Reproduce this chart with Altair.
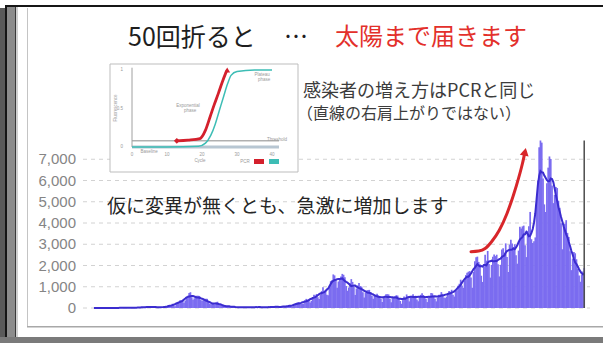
import altair as alt
import pandas as pd

# ---------------------------------------------------------------
# Data
# ---------------------------------------------------------------
# Daily new COVID-19 cases in Japan, one row per week, starting Monday 2020-01-27
start_date = "2020-01-27"
daily_cases = [
    1, 1, 1, 3, 3, 1, 0,
    0, 0, 2, 3, 1, 1, 0,
    0, 2, 0, 1, 6, 8, 10,
    7, 8, 10, 12, 14, 16, 11,
    12, 10, 17, 18, 23, 20, 13,
    16, 15, 34, 31, 48, 59, 33,
    26, 54, 52, 56, 52, 64, 31,
    15, 44, 39, 35, 43, 53, 35,
    39, 65, 93, 96, 111, 200, 173,
    87, 193, 266, 235, 368, 331, 383,
    252, 351, 515, 576, 708, 743, 507,
    391, 456, 548, 582, 576, 568, 373,
    346, 373, 389, 437, 431, 306, 196,
    172, 194, 212, 165, 262, 295, 200,
    175, 123, 96, 101, 106, 81, 66,
    51, 90, 54, 99, 51, 37, 27,
    17, 37, 21, 43, 29, 48, 26,
    25, 30, 40, 37, 49, 47, 39,
    32, 41, 40, 41, 48, 49, 39,
    16, 35, 39, 41, 44, 67, 47,
    72, 43, 44, 41, 68, 66, 58,
    37, 52, 96, 79, 104, 99, 110,
    88, 128, 131, 195, 250, 274, 229,
    187, 199, 204, 350, 429, 386, 408,
    256, 333, 448, 622, 590, 661, 508,
    419, 629, 795, 981, 769, 841, 624,
    597, 981, 1264, 1302, 1580, 1534, 1331,
    955, 1246, 1358, 1485, 1605, 1563, 1442,
    1035, 811, 962, 1176, 1360, 1227, 1018,
    615, 920, 1064, 1178, 1033, 1007, 737,
    494, 729, 820, 849, 853, 733, 575,
    433, 582, 613, 672, 593, 530, 438,
    283, 508, 500, 652, 651, 640, 437,
    269, 508, 502, 556, 602, 585, 434,
    329, 200, 371, 545, 485, 638, 471,
    311, 531, 568, 647, 566, 577, 399,
    316, 519, 620, 689, 612, 533, 434,
    278, 498, 543, 705, 690, 587, 434,
    312, 491, 621, 622, 749, 665, 492,
    466, 537, 695, 802, 766, 857, 625,
    539, 788, 827, 1050, 1141, 1331, 1060,
    950, 1275, 1547, 1661, 1707, 1737, 1438,
    953, 1697, 2200, 2386, 2417, 2168, 2057,
    1519, 1227, 1933, 2503, 2227, 2684, 2067,
    1429, 2028, 2412, 2518, 2442, 2507, 2063,
    1486, 2032, 2756, 2810, 2595, 3041, 2395,
    1693, 2983, 3211, 3041, 2832, 3002, 2484,
    2085, 2702, 3823, 3740, 3840, 3876, 2948,
    2395, 3628, 3852, 4520, 3237, 3059, 3138,
    3321, 4887, 6004, 7563, 7882, 7783, 6094,
    4876, 4519, 5866, 6605, 7132, 7014, 5759,
    4935, 5324, 5689, 5645, 5044, 4717, 3990,
    2764, 3853, 3961, 4133, 3535, 3343, 2673,
    1782, 2324, 2631, 2575, 2293, 1846, 1532,
    1235, 1566, 1712, 1879,
]

y_ticks = [0, 1000, 2000, 3000, 4000, 5000, 6000, 7000]

# Hand-drawn red arrow over the third wave
arrow_dates = ["2020-11-15", "2020-11-21", "2020-11-26", "2020-12-01", "2020-12-07",
               "2020-12-13", "2020-12-20", "2020-12-25", "2020-12-27"]
arrow_values = [2650, 2680, 2800, 3120, 3660, 4450, 5700, 6800, 7350]

# Inset: PCR amplification curves (cycle number vs. normalised fluorescence)
red_cycles = [12.8, 16, 19.4, 21, 22.3, 23.5, 24.7, 25.7, 26.6, 27.2]
red_signal = [0.08, 0.09, 0.11, 0.22, 0.39, 0.55, 0.70, 0.83, 0.94, 1.0]
teal_cycles = [0, 10, 19, 21, 22.5, 23.8, 25, 26.2, 27.3, 28.3, 30, 35, 40]
teal_signal = [0.0, 0.0, 0.01, 0.05, 0.15, 0.30, 0.48, 0.66, 0.82, 0.93, 0.98, 1.0, 1.0]
threshold_level = 0.08

# ---------------------------------------------------------------
# Tables
# ---------------------------------------------------------------
dates = pd.date_range(start_date, periods=len(daily_cases), freq="D").strftime("%Y-%m-%d")
cases_df = pd.DataFrame({"date": list(dates), "cases": daily_cases})
ticks_df = pd.DataFrame({"value": y_ticks})
end_df = pd.DataFrame({"date": [dates[-1]], "bottom": [0], "top": [max(daily_cases)]})
arrow_df = pd.DataFrame({"date": arrow_dates, "value": arrow_values, "order": range(len(arrow_dates))})
tip_df = arrow_df.tail(1)
red_df = pd.DataFrame({"cycle": red_cycles, "signal": red_signal})
teal_df = pd.DataFrame({"cycle": teal_cycles, "signal": teal_signal})
red_ends = red_df.iloc[[0, -1]].assign(kind=["start", "end"])
one_row = alt.Data(values=[{}])

CJK = "Noto Sans CJK JP"
LAT = "Liberation Sans"

# ---------------------------------------------------------------
# Scales
# ---------------------------------------------------------------
x_scale = alt.Scale(domain=[alt.DateTime(year=2020, month=1, date=18, hours=12, utc=True),
                            alt.DateTime(year=2021, month=2, date=15, hours=12, utc=True)],
                    padding=0)
y_scale = alt.Scale(domain=[0, 8000], nice=False)

inset_x = alt.Scale(domain=[0, 40], range=[49, 189], nice=False, zero=False)
inset_y = alt.Scale(domain=[0, 1], range=[9, -68], nice=False, zero=False)


def rect(x0, x1, y0, y1, color):
    return alt.Chart(one_row).mark_rect(color=color).encode(
        x=alt.value(x0), x2=alt.value(x1), y=alt.value(y0), y2=alt.value(y1))


def label(text, x, y, size, color, align="left", font=CJK, angle=0):
    return alt.Chart(one_row).mark_text(
        align=align, baseline="middle", font=font, fontSize=size, color=color, angle=angle
    ).encode(x=alt.value(x), y=alt.value(y), text=alt.value(text))


# ---------------------------------------------------------------
# Slide frame
# ---------------------------------------------------------------
frame = alt.layer(
    rect(-83, -78, -130, 205, "#5a5a5a"),
    rect(-78, 520, -133, -131, "#161616"),
    rect(-78, -76, -133, 205, "#161616"),
    rect(-76, -68, -131, 205, "#8c8c8c"),
    rect(-68, -67, -131, 205, "#3a3a3a"),
    rect(-67, -65, -131, 205, "#d0d0d0"),
    rect(-56, -55, -130, 188, "#c4c4c4"),
    rect(-56, 520, 188, 189.5, "#a8a8a8"),
    rect(-83, 520, 199, 205, "#7a7a7a"),
)

# ---------------------------------------------------------------
# Main chart: value axis, daily bars, 7-day average, end marker, red arrow
# ---------------------------------------------------------------
grid = alt.Chart(ticks_df).mark_rule(color="#d2d2d2", strokeWidth=1, strokeDash=[4, 4]).encode(
    x=alt.value(0), x2=alt.value(507),
    y=alt.Y("value:Q", scale=y_scale, axis=None),
)

tick_labels = alt.Chart(ticks_df).mark_text(
    align="right", baseline="middle", font=LAT, fontSize=15, color="#858585"
).encode(
    x=alt.value(-7),
    y=alt.Y("value:Q", scale=y_scale, axis=None),
    text=alt.Text("value:Q", format=","),
)

bars = alt.Chart(cases_df).mark_bar(width=1.7, color="#7b6cf0").encode(
    x=alt.X("date:T", scale=x_scale, axis=None),
    y=alt.Y("cases:Q", scale=y_scale, axis=None),
)

avg_line = alt.Chart(cases_df).transform_window(
    avg="mean(cases)", frame=[-3, 3], sort=[alt.SortField("date")]
).mark_line(color="#3b2ccf", strokeWidth=2).encode(
    x=alt.X("date:T", scale=x_scale, axis=None),
    y=alt.Y("avg:Q", scale=y_scale, axis=None),
)

end_rule = alt.Chart(end_df).mark_rule(color="#4d4d4d", strokeWidth=1.5).encode(
    x=alt.X("date:T", scale=x_scale, axis=None),
    y=alt.Y("bottom:Q", scale=y_scale, axis=None),
    y2="top:Q",
)

arrow_line = alt.Chart(arrow_df).mark_line(
    color="#d8262a", strokeWidth=3, interpolate="monotone", strokeCap="round"
).encode(
    x=alt.X("date:T", scale=x_scale, axis=None),
    y=alt.Y("value:Q", scale=y_scale, axis=None),
    order="order:Q",
)

arrow_head = alt.Chart(tip_df).mark_point(
    shape="triangle-up", filled=True, size=80, color="#d8262a", opacity=1, angle=12
).encode(
    x=alt.X("date:T", scale=x_scale, axis=None),
    y=alt.Y("value:Q", scale=y_scale, axis=None),
)

main = alt.layer(grid, tick_labels, bars, avg_line, end_rule, arrow_line, arrow_head)

# ---------------------------------------------------------------
# Inset: PCR amplification plot
# ---------------------------------------------------------------
inset_box = alt.Chart(one_row).mark_rect(fill="white", stroke="#bdbdbd", strokeWidth=1).encode(
    x=alt.value(27), x2=alt.value(215), y=alt.value(-74), y2=alt.value(34))

inset_axis = alt.Chart(one_row).mark_rule(color="#a0a0a0", strokeWidth=1).encode(
    x=alt.X(datum=0, scale=inset_x, axis=None),
    y=alt.Y(datum=0, scale=inset_y, axis=None),
    y2=alt.Y2(datum=1.03),
)

baseline_band = alt.Chart(one_row).mark_rect(color="#b7c6d2").encode(
    x=alt.X(datum=0, scale=inset_x, axis=None),
    x2=alt.X2(datum=42),
    y=alt.Y(datum=-0.02, scale=inset_y, axis=None),
    y2=alt.Y2(datum=0.02),
)

threshold = alt.Chart(one_row).mark_rule(color="#8a8a8a", strokeWidth=1).encode(
    x=alt.X(datum=0, scale=inset_x, axis=None),
    x2=alt.X2(datum=42),
    y=alt.Y(datum=threshold_level, scale=inset_y, axis=None),
)

teal_line = alt.Chart(teal_df).mark_line(color="#3dbdb5", strokeWidth=1.5, interpolate="monotone").encode(
    x=alt.X("cycle:Q", scale=inset_x, axis=None),
    y=alt.Y("signal:Q", scale=inset_y, axis=None),
)

red_line = alt.Chart(red_df).mark_line(color="#d4202c", strokeWidth=2.8, interpolate="monotone").encode(
    x=alt.X("cycle:Q", scale=inset_x, axis=None),
    y=alt.Y("signal:Q", scale=inset_y, axis=None),
)

red_marks = alt.Chart(red_ends).mark_point(filled=True, color="#d4202c", opacity=1, size=34).encode(
    x=alt.X("cycle:Q", scale=inset_x, axis=None),
    y=alt.Y("signal:Q", scale=inset_y, axis=None),
    shape=alt.Shape("kind:N", scale=alt.Scale(domain=["start", "end"],
                                              range=["diamond", "triangle-up"]), legend=None),
)

tiny = "#9a9a9a"
inset_text = alt.layer(
    label("Fluorescence", 33, -30, 4.5, tiny, align="center", font=LAT, angle=270),
    label("1", 40, -68, 4.5, tiny, align="right", font=LAT),
    label("0.5", 40, -29, 4.5, tiny, align="right", font=LAT),
    label("0", 40, 9, 4.5, tiny, align="right", font=LAT),
    label("0", 49, 17, 4.5, tiny, align="center", font=LAT),
    label("10", 84, 17, 4.5, tiny, align="center", font=LAT),
    label("20", 119, 17, 4.5, tiny, align="center", font=LAT),
    label("30", 154, 17, 4.5, tiny, align="center", font=LAT),
    label("40", 189, 17, 4.5, tiny, align="center", font=LAT),
    label("Cycle", 117, 23, 4.5, tiny, align="center", font=LAT),
    label("Baseline", 66, 14, 4.5, tiny, align="center", font=LAT),
    label("Threshold", 194, 2, 4.5, tiny, align="center", font=LAT),
    label("Exponential", 105, -32, 4.5, tiny, align="center", font=LAT),
    label("phase", 107, -27, 4.5, tiny, align="center", font=LAT),
    label("Plateau", 179, -63, 4.5, tiny, align="center", font=LAT),
    label("phase", 181, -58, 4.5, tiny, align="center", font=LAT),
    label("PCR", 162, 24, 4.5, tiny, align="center", font=LAT),
    rect(171, 181, 21, 26, "#d4202c"),
    rect(186, 196, 21, 26, "#3dbdb5"),
)

inset = alt.layer(inset_box, baseline_band, threshold, inset_axis, teal_line, red_line, red_marks, inset_text)

# ---------------------------------------------------------------
# Headings and annotations
# ---------------------------------------------------------------
texts = alt.layer(
    label("50回折ると", 45, -100, 25, "#1e1e1e"),
    label("…", 201, -100, 24, "#1e1e1e"),
    label("太陽まで届きます", 252, -100, 24, "#e3302b"),
    label("感染者の増え方はPCRと同じ", 220, -46, 18, "#3c3c3c"),
    label("（直線の右肩上がりではない）", 214, -24, 16, "#3c3c3c"),
    label("仮に変異が無くとも、急激に増加します", 24, 69, 19, "#262626"),
)

chart = alt.layer(frame, main, inset, texts).resolve_scale(
    x="independent", y="independent"
).properties(
    width=507,
    height=170,
    padding={"left": 83, "top": 138, "right": 13, "bottom": 35},
    autosize=alt.AutoSizeParams(type="none"),
    background="white",
).configure_view(stroke=None)

chart.save("out.html", embed_options={"renderer": "svg", "actions": False})
